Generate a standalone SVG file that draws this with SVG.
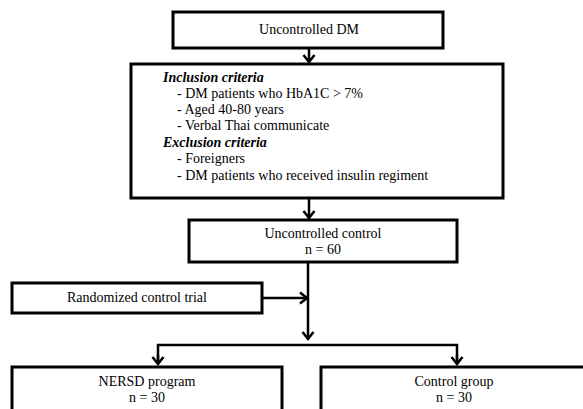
<svg xmlns="http://www.w3.org/2000/svg" width="583" height="409" viewBox="0 0 583 409">
  <style>
    .box { fill: #ffffff; stroke: #000000; stroke-width: 3; }
    .conn { fill: none; stroke: #000000; stroke-width: 2.5; }
    text { font-family: "Liberation Serif", "Times New Roman", serif; font-size: 14px; fill: #000000; }
    .c { text-anchor: middle; }
    .h { font-weight: bold; font-style: italic; }
  </style>
  <defs>
    <marker id="arr" markerUnits="userSpaceOnUse" markerWidth="16" markerHeight="16" refX="8" refY="8" orient="auto" overflow="visible">
      <path d="M1,2.5 L8,8 L1,13.5" fill="none" stroke="#000000" stroke-width="2.6"/>
    </marker>
  </defs>
  <rect width="583" height="409" fill="#ffffff"/>

  <g id="connectors">
    <line class="conn" x1="309" y1="48" x2="309" y2="62" marker-end="url(#arr)"/>
    <line class="conn" x1="309" y1="198" x2="309" y2="218" marker-end="url(#arr)"/>
    <line class="conn" x1="308" y1="262" x2="308" y2="339" marker-end="url(#arr)"/>
    <line class="conn" x1="262" y1="298" x2="307" y2="298" marker-end="url(#arr)"/>
    <polyline class="conn" points="158,364 158,345 457,345 457,364"/>
    <line class="conn" x1="158" y1="355" x2="158" y2="364" marker-end="url(#arr)"/>
    <line class="conn" x1="457" y1="355" x2="457" y2="364" marker-end="url(#arr)"/>
  </g>

  <g id="uncontrolled-dm">
    <rect class="box" x="173" y="12" width="270" height="36"/>
    <text class="c" x="309" y="34">Uncontrolled DM</text>
  </g>

  <g id="criteria">
    <rect class="box" x="131" y="64" width="372" height="134"/>
    <text class="h" x="163" y="82">Inclusion criteria</text>
    <text x="177" y="98">- DM patients who HbA1C &gt; 7%</text>
    <text x="177" y="114">- Aged 40-80 years</text>
    <text x="177" y="130">- Verbal Thai communicate</text>
    <text class="h" x="163" y="147">Exclusion criteria</text>
    <text x="177" y="163">- Foreigners</text>
    <text x="177" y="180">- DM patients who received insulin regiment</text>
  </g>

  <g id="uncontrolled-control">
    <rect class="box" x="189" y="220" width="268" height="42"/>
    <text class="c" x="323" y="238">Uncontrolled control</text>
    <text class="c" x="323" y="254">n = 60</text>
  </g>

  <g id="rct">
    <rect class="box" x="12" y="283" width="250" height="30"/>
    <text class="c" x="137" y="302">Randomized control trial</text>
  </g>

  <g id="nersd">
    <rect class="box" x="12" y="367" width="270" height="50"/>
    <text class="c" x="147" y="386">NERSD program</text>
    <text class="c" x="147" y="402">n = 30</text>
  </g>

  <g id="control-group">
    <rect class="box" x="321" y="367" width="270" height="50"/>
    <text class="c" x="454" y="386">Control group</text>
    <text class="c" x="454" y="402">n = 30</text>
  </g>
</svg>
